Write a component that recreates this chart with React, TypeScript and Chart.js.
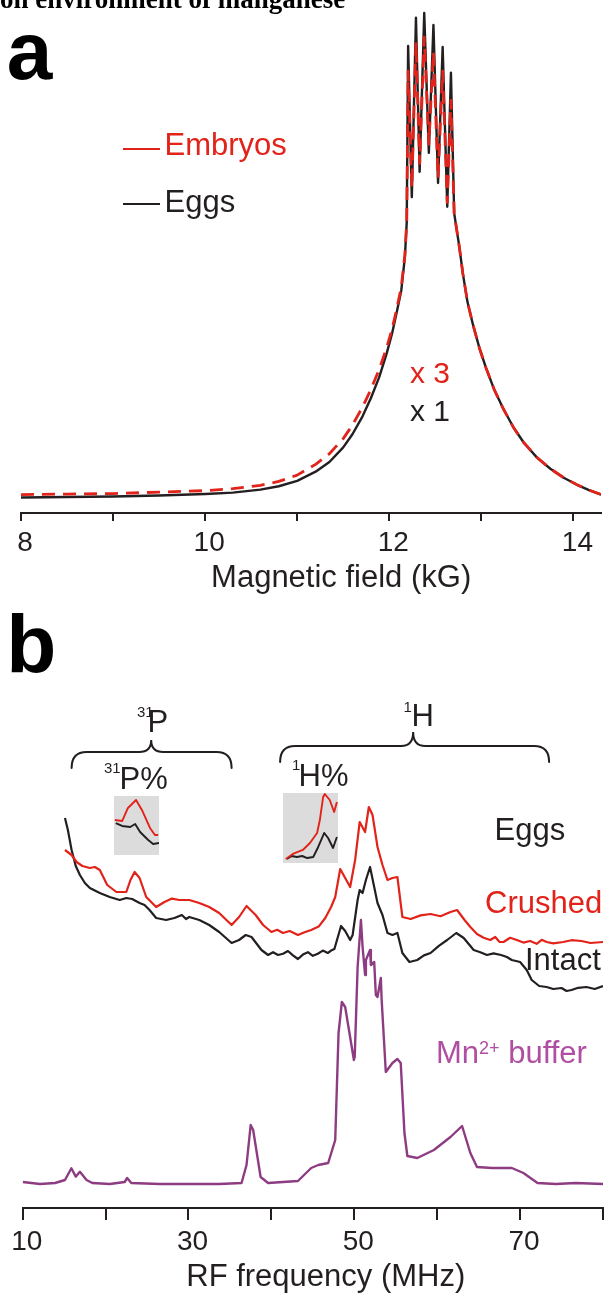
import React, { useEffect, useRef } from "react";
import { Chart, registerables } from "chart.js";

Chart.register(...registerables);

const SANS = '"Liberation Sans", Arial, Helvetica, sans-serif';
const SERIF = '"Liberation Serif", "Times New Roman", serif';
const INK = "#231f20";
const RED = "#e2231a";
const PURPLE_LINE = "#8e3c82";
const PURPLE_TEXT = "#b04ea2";
const GRAY_BOX = "#dcdcdc";

// ---------- Panel a : EPR spectra (magnetic field, kG) ----------
const fieldKG = [
  8.0, 8.5, 9.0, 9.5, 10.0, 10.3, 10.6, 10.8, 11.0, 11.2, 11.35, 11.5, 11.6, 11.71, 11.8, 11.89, 11.97, 12.03,
  12.08, 12.13, 12.17, 12.19, 12.205, 12.245, 12.29, 12.33, 12.38, 12.43, 12.48, 12.53, 12.58, 12.63, 12.67,
  12.705, 12.76, 12.8, 12.85, 12.91, 12.98, 13.05, 13.14, 13.24, 13.35, 13.46, 13.6, 13.75, 13.9, 14.04, 14.17, 14.3,
];
const eggsSignal = [
  0.3, 0.4, 0.5, 0.7, 1.0, 1.3, 1.9, 2.6, 3.7, 5.6, 7.6, 10.6, 13.3, 17.0, 20.7, 25.0, 29.8, 34.0,
  38.3, 42.8, 49.8, 57.0, 93.2, 62.1, 99.0, 67.3, 100.0, 71.2, 97.5, 65.0, 93.0, 60.1, 87.7,
  58.8, 52.0, 46.3, 40.5, 35.8, 31.0, 27.0, 22.5, 18.5, 14.7, 11.6, 8.6, 6.2, 4.3, 2.9, 1.8, 0.9,
];
const embryosSignal = [
  0.9, 1.0, 1.1, 1.4, 1.7, 2.1, 2.8, 3.6, 4.9, 7.1, 9.3, 12.4, 15.2, 18.9, 22.5, 26.6, 31.0, 34.9,
  39.0, 43.5, 50.3, 57.0, 88.0, 64.0, 94.0, 69.0, 95.0, 73.0, 92.0, 66.0, 88.0, 61.0, 82.0,
  58.8, 52.0, 46.3, 40.5, 35.8, 31.0, 27.0, 22.5, 18.5, 14.7, 11.6, 8.6, 6.2, 4.3, 2.9, 1.8, 0.9,
];
const fieldLabelled = [8, 10, 12, 14];

// ---------- Panel b : ENDOR spectra (RF frequency, MHz) ----------
const freqIntact = [
  15.1, 15.45, 15.9, 16.4, 16.9, 17.5, 18.1, 19.3, 20.5, 21.7, 22.5, 23.2, 24.1, 24.7, 25.3, 26.1, 27.3, 28.3,
  29.2, 29.7, 30.1, 31.3, 32.5, 33.7, 35.2, 36.1, 36.9, 37.6, 38.8, 39.6, 40.2, 40.8, 41.4, 42.0, 42.6, 43.2,
  43.8, 44.4, 45.0, 45.6, 46.2, 46.8, 47.2, 47.6, 48.4, 48.9, 49.5, 49.8, 50.4, 50.65, 51.0, 51.4, 51.9, 52.35,
  52.8, 53.4, 54.0, 54.6, 55.2, 55.8, 56.65, 57.6, 58.4, 59.2, 60.2, 61.2, 62.3, 63.2, 64.4, 65.2, 66.0, 66.8,
  67.7, 68.4, 69.0, 70.0, 70.8, 71.4, 72.3, 73.2, 74.0, 75.0, 75.6, 76.2, 77.0, 78.0, 79.0, 80.0,
];
const intactSignal = [
  91.75, 88.75, 83.75, 79.75, 77.5, 75.5, 74.25, 73.0, 72.0, 71.25, 71.75, 71.5, 70.5, 70.0, 68.75, 66.75, 66.25, 66.75,
  67.5, 66.5, 67.0, 66.25, 65.0, 63.25, 60.5, 61.25, 62.5, 62.0, 58.75, 57.5, 58.2, 57.5, 57.8, 58.5, 57.4, 56.5,
  57.6, 58.2, 57.3, 57.8, 58.6, 58.0, 58.6, 59.0, 64.75, 63.5, 61.25, 62.5, 71.25, 73.75, 73.0, 76.25, 79.5, 75.0,
  70.5, 67.5, 63.0, 62.5, 63.0, 58.0, 55.75, 56.25, 57.4, 58.0, 59.8, 61.25, 63.0, 61.75, 58.75, 58.2, 57.5, 57.9,
  57.5, 57.0, 56.25, 55.75, 53.75, 51.25, 49.75, 49.5, 49.0, 49.25, 48.5, 48.75, 49.3, 49.5, 49.0, 49.75,
];
const freqCrushed = [
  15.1, 15.9, 16.5, 17.2, 18.1, 18.7, 19.3, 20.2, 21.3, 22.5, 23.0, 23.5, 24.1, 24.9, 26.1, 27.1, 28.0, 28.9, 30.1,
  31.3, 32.5, 33.7, 35.2, 36.1, 37.0, 38.1, 39.0, 40.0, 40.7, 41.4, 42.2, 43.2, 44.0, 44.8, 45.7, 46.5, 47.2, 47.7,
  48.3, 48.9, 49.5, 50.1, 50.65, 51.3, 51.75, 52.2, 52.8, 53.4, 54.0, 54.6, 55.2, 55.8, 56.8, 58.0, 59.2, 60.4,
  61.6, 62.4, 63.3, 64.0, 64.8, 65.6, 66.4, 67.0, 67.5, 68.0, 68.8, 69.6, 70.4, 71.2, 72.0, 72.6, 73.2, 74.0,
  75.2, 76.2, 77.4, 78.5, 80.0,
];
const crushedSignal = [
  83.75, 82.5, 80.75, 79.75, 79.25, 79.5, 78.75, 75.0, 73.25, 73.25, 76.25, 78.25, 76.75, 72.0, 69.5, 70.75, 71.6, 71.25, 71.25,
  70.5, 69.5, 68.0, 65.0, 67.0, 69.75, 67.5, 65.0, 63.25, 63.8, 63.0, 63.5, 62.5, 63.2, 63.75, 64.6, 66.75, 69.5, 72.0,
  79.0, 76.75, 74.5, 81.25, 90.75, 88.25, 94.5, 92.5, 84.5, 80.0, 76.25, 76.75, 77.0, 67.0, 66.5, 67.4, 67.75, 67.2,
  68.25, 68.75, 66.25, 64.5, 62.75, 61.8, 61.25, 62.0, 60.8, 60.75, 61.8, 61.25, 60.6, 61.0, 60.3, 61.3, 60.75, 60.4,
  60.75, 61.2, 61.0, 60.5, 60.75,
];
const freqBuffer = [
  10.0, 12.1, 13.9, 15.1, 15.87, 16.4, 16.9, 17.7, 18.4, 20.5, 22.3, 22.6, 23.1, 26.5, 31.3, 33.7, 36.4, 37.0, 37.5,
  37.8, 38.7, 39.6, 43.2, 44.8, 45.65, 46.85, 47.7, 48.1, 48.5, 48.9, 49.95, 50.05, 50.4, 50.8, 51.0, 51.3, 51.4,
  51.9, 52.0, 52.4, 52.6, 52.8, 53.2, 53.3, 53.8, 54.6, 55.2, 55.6, 56.05, 56.4, 57.6, 59.6, 61.6, 63.0, 64.0,
  64.8, 66.6, 69.0, 70.4, 72.1, 74.3, 76.7, 80.0,
];
const bufferSignal = [
  0.75, 0.25, 0.5, 1.25, 4.2, 2.1, 3.3, 1.25, 0.5, 0.25, 0.75, 1.75, 0.5, 0.25, 0.25, 0.25, 0.5, 5.0, 15.0,
  13.75, 2.0, 0.5, 1.0, 4.25, 5.0, 5.5, 11.25, 38.0, 45.75, 44.5, 31.25, 32.0, 54.5, 66.25, 59.5, 52.5, 56.25,
  58.75, 55.0, 55.75, 47.5, 47.0, 51.75, 46.25, 28.25, 30.5, 31.5, 30.5, 13.0, 7.25, 6.75, 8.75, 12.0, 14.75, 8.0,
  4.5, 4.25, 4.25, 3.0, 0.5, 0.25, 0.5, 0.25,
];
const rfLabelled = [10, 30, 50, 70];

// Insets (expanded views, arbitrary units)
const insetPRedX = [0.2, 1.8, 3.1, 4.9, 6.2, 8.0, 9.1, 9.8];
const insetPRedY = [59.3, 57.6, 79.7, 93.2, 76.3, 45.8, 33.9, 33.9];
const insetPBlackX = [0.4, 1.8, 3.6, 4.7, 5.8, 7.6, 8.7, 10.0];
const insetPBlackY = [54.2, 49.2, 47.5, 52.5, 39.0, 25.4, 18.6, 20.3];
const insetHRedX = [0.5, 1.8, 3.6, 4.9, 6.2, 6.7, 7.3, 7.6, 8.5, 9.3, 9.8];
const insetHRedY = [5.7, 12.9, 18.6, 28.6, 42.9, 61.4, 94.3, 98.6, 90.0, 72.9, 87.1];
const insetHBlackX = [0.7, 1.6, 2.5, 3.5, 4.4, 5.5, 6.4, 7.5, 8.2, 9.1, 9.8];
const insetHBlackY = [5.7, 10.0, 8.6, 10.0, 7.1, 8.6, 22.9, 42.9, 35.7, 21.4, 37.1];

// Brace ranges (MHz): start, centre, end
const braceP = [15.9, 25.5, 35.2];
const braceH = [41.05, 57.1, 73.5];

function pts(xs: number[], ys: number[]) {
  const n = Math.min(xs.length, ys.length);
  const out: { x: number; y: number }[] = [];
  for (let i = 0; i < n; i++) out.push({ x: xs[i], y: ys[i] });
  return out;
}

function line(data: { x: number; y: number }[], color: string, width: number, extra: any = {}) {
  return {
    data,
    borderColor: color,
    borderWidth: width,
    pointRadius: 0,
    tension: 0,
    fill: false,
    borderJoinStyle: "round",
    ...extra,
  };
}

function ChartCanvas({ left, top, width, height, build }: any) {
  const ref = useRef<HTMLCanvasElement>(null);
  useEffect(() => {
    const chart = new Chart(ref.current as HTMLCanvasElement, build());
    return () => chart.destroy();
  }, []);
  return (
    <canvas
      ref={ref}
      width={width}
      height={height}
      style={{ position: "absolute", left, top, width, height, display: "block" }}
    />
  );
}

function Txt({ x, base, size, color = INK, weight = 400, family = SANS, ratio = 0.8465, children }: any) {
  return (
    <div
      style={{
        position: "absolute",
        left: x,
        top: base - ratio * size,
        fontSize: size,
        lineHeight: 1,
        fontFamily: family,
        fontWeight: weight,
        color,
        whiteSpace: "nowrap",
      }}
    >
      {children}
    </div>
  );
}

const buildA = () => ({
  type: "line",
  data: {
    datasets: [
      line(pts(fieldKG, embryosSignal), RED, 2.8, { label: "Embryos", borderDash: [13, 8], order: 1 }),
      line(pts(fieldKG, eggsSignal), INK, 2.4, { label: "Eggs", order: 2 }),
    ],
  },
  options: {
    responsive: false,
    animation: false,
    layout: { padding: { left: 21, right: 7, top: 10, bottom: 0 } },
    plugins: { legend: { display: false }, tooltip: { enabled: false } },
    scales: {
      x: {
        type: "linear",
        min: 8,
        max: 14.3,
        ticks: {
          stepSize: 1,
          includeBounds: false,
          autoSkip: false,
          maxRotation: 0,
          padding: 5,
          labelOffset: 4,
          color: INK,
          font: { family: SANS, size: 28 },
          callback: (v: number) => (fieldLabelled.includes(Math.round(v)) ? String(Math.round(v)) : ""),
        },
        grid: { display: true, drawOnChartArea: false, drawTicks: true, tickLength: 8, color: INK, lineWidth: 2 },
        border: { display: true, color: INK, width: 2 },
        title: {
          display: true,
          text: "       Magnetic field (kG)",
          color: INK,
          font: { family: SANS, size: 31, lineHeight: 1 },
          padding: { top: 0, bottom: 6 },
        },
        afterFit: (s: any) => {
          s.height = 87;
        },
      },
      y: { display: false, min: -2.9, max: 100.6 },
    },
  },
});

function drawBrace(ctx: CanvasRenderingContext2D, xl: number, xc: number, xr: number, yTip: number, yH: number, yEnd: number) {
  ctx.beginPath();
  ctx.moveTo(xl, yEnd);
  ctx.quadraticCurveTo(xl, yH, xl + 15, yH);
  ctx.lineTo(xc - 12, yH);
  ctx.quadraticCurveTo(xc, yH, xc, yTip);
  ctx.quadraticCurveTo(xc, yH, xc + 12, yH);
  ctx.lineTo(xr - 15, yH);
  ctx.quadraticCurveTo(xr, yH, xr, yEnd);
  ctx.stroke();
}

const bracePlugin = {
  id: "braces",
  afterDraw(chart: any) {
    const ctx = chart.ctx as CanvasRenderingContext2D;
    const xs = chart.scales.x;
    ctx.save();
    ctx.strokeStyle = INK;
    ctx.lineWidth = 2;
    ctx.lineCap = "round";
    drawBrace(ctx, xs.getPixelForValue(braceP[0]), xs.getPixelForValue(braceP[1]), xs.getPixelForValue(braceP[2]), 140, 152, 168);
    drawBrace(ctx, xs.getPixelForValue(braceH[0]), xs.getPixelForValue(braceH[1]), xs.getPixelForValue(braceH[2]), 132, 146, 162);
    ctx.restore();
  },
};

const buildB = () => ({
  type: "line",
  data: {
    datasets: [
      line(pts(freqCrushed, crushedSignal), RED, 2.2, { label: "Crushed", order: 1 }),
      line(pts(freqIntact, intactSignal), INK, 2.2, { label: "Intact", order: 2 }),
      line(pts(freqBuffer, bufferSignal), PURPLE_LINE, 2.4, { label: "Mn2+ buffer", order: 3 }),
    ],
  },
  plugins: [bracePlugin],
  options: {
    responsive: false,
    animation: false,
    layout: { padding: { left: 22.7, right: 0.8, top: 180, bottom: 0 } },
    plugins: { legend: { display: false }, tooltip: { enabled: false } },
    scales: {
      x: {
        type: "linear",
        min: 10,
        max: 80,
        ticks: {
          stepSize: 10,
          includeBounds: false,
          autoSkip: false,
          maxRotation: 0,
          padding: 5,
          labelOffset: 4,
          color: INK,
          font: { family: SANS, size: 28 },
          callback: (v: number) => (rfLabelled.includes(Math.round(v)) ? String(Math.round(v)) : ""),
        },
        grid: { display: true, drawOnChartArea: false, drawTicks: true, tickLength: 12, color: INK, lineWidth: 2 },
        border: { display: true, color: INK, width: 2 },
        title: {
          display: true,
          text: "   RF frequency (MHz)",
          color: INK,
          font: { family: SANS, size: 31, lineHeight: 1 },
          padding: { top: 0, bottom: 2 },
        },
        afterFit: (s: any) => {
          s.height = 87;
        },
      },
      y: { display: false, min: -5.75, max: 101.25 },
    },
  },
});

const grayBg = {
  id: "grayBg",
  beforeDraw(chart: any) {
    const { ctx, chartArea } = chart;
    ctx.save();
    ctx.fillStyle = GRAY_BOX;
    ctx.fillRect(chartArea.left, chartArea.top, chartArea.width, chartArea.height);
    ctx.restore();
  },
};

const buildInset = (rx: number[], ry: number[], bx: number[], by: number[]) => () => ({
  type: "line",
  data: {
    datasets: [
      line(pts(rx, ry), RED, 1.9, { order: 1 }),
      line(pts(bx, by), INK, 1.9, { order: 2 }),
    ],
  },
  plugins: [grayBg],
  options: {
    responsive: false,
    animation: false,
    layout: { padding: 0 },
    plugins: { legend: { display: false }, tooltip: { enabled: false } },
    scales: {
      x: { type: "linear", display: false, min: 0, max: 10 },
      y: { display: false, min: 0, max: 100 },
    },
  },
});

export default function App() {
  return (
    <div
      style={{
        position: "absolute",
        left: 0,
        top: 0,
        width: 608,
        height: 1295,
        background: "#fff",
        overflow: "hidden",
      }}
    >
      <ChartCanvas left={0} top={0} width={608} height={600} build={buildA} />
      <ChartCanvas left={0} top={600} width={608} height={695} build={buildB} />
      <ChartCanvas left={114} top={796} width={45} height={59} build={buildInset(insetPRedX, insetPRedY, insetPBlackX, insetPBlackY)} />
      <ChartCanvas left={283} top={793} width={55} height={70} build={buildInset(insetHRedX, insetHRedY, insetHBlackX, insetHBlackY)} />

      {/* heading fragment */}
      <Txt x={0} base={9} size={27} weight={700} family={SERIF} ratio={0.8375} color="#000">
        on environment of manganese
      </Txt>

      {/* panel letters */}
      <Txt x={6.7} base={79} size={82} weight={700} color="#000">a</Txt>
      <Txt x={6.3} base={672} size={82} weight={700} color="#000">b</Txt>

      {/* panel a legend */}
      <div style={{ position: "absolute", left: 123, top: 147.8, width: 37, height: 2.6, background: RED }} />
      <Txt x={164.5} base={155} size={31} color={RED}>Embryos</Txt>
      <div style={{ position: "absolute", left: 123, top: 202.8, width: 37, height: 2.6, background: INK }} />
      <Txt x={164.5} base={212} size={31}>Eggs</Txt>

      <Txt x={410} base={383.6} size={30} color={RED}>x 3</Txt>
      <Txt x={410} base={421.6} size={30}>x 1</Txt>

      {/* panel b annotations */}
      <Txt x={137} base={717} size={15}>31</Txt>
      <Txt x={147.6} base={732} size={31}>P</Txt>
      <Txt x={403.5} base={712} size={15}>1</Txt>
      <Txt x={411.6} base={726} size={31}>H</Txt>
      <Txt x={104} base={773} size={15}>31</Txt>
      <Txt x={119.6} base={789} size={31}>P%</Txt>
      <Txt x={292} base={770} size={15}>1</Txt>
      <Txt x={298.6} base={786} size={31}>H%</Txt>

      <Txt x={494.6} base={840} size={31}>Eggs</Txt>
      <Txt x={485} base={913} size={31} color={RED}>Crushed</Txt>
      <Txt x={525} base={970} size={31}>Intact</Txt>
      <Txt x={436} base={1063} size={31} color={PURPLE_TEXT}>
        Mn<span style={{ fontSize: 18, position: "relative", top: -9 }}>2+</span> buffer
      </Txt>
    </div>
  );
}
